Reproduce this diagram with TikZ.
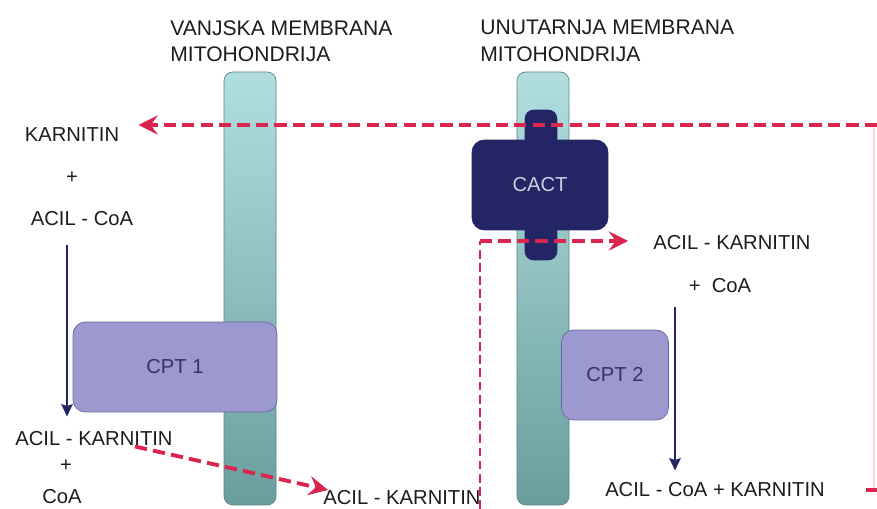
\documentclass[tikz,border=0pt]{standalone}
\usepackage{fontspec}
\setmainfont{Liberation Sans}
\usetikzlibrary{arrows.meta,positioning}
\definecolor{dashred}{RGB}{218,38,78}
\definecolor{fadepink}{RGB}{250,214,224}
\definecolor{cactnavy}{RGB}{36,37,100}
\definecolor{cactfont}{RGB}{205,205,225}
\definecolor{cptfill}{RGB}{156,152,208}
\definecolor{cptline}{RGB}{104,102,162}
\definecolor{cptfont}{RGB}{52,52,100}
\definecolor{memtop}{RGB}{178,222,224}
\definecolor{membot}{RGB}{106,158,158}
\definecolor{memline}{RGB}{88,132,132}
\definecolor{textgray}{RGB}{28,28,28}
\tikzset{
  txt/.style={font=\fontsize{11.5}{13}\selectfont, text=textgray, inner sep=0pt},
  headtxt/.style={font=\fontsize{12}{15.3}\selectfont, text=textgray, align=left, inner sep=0pt, anchor=north west},
  membrane/.style={rounded corners=5pt, draw=memline, top color=memtop, bottom color=membot},
  enzyme/.style={rounded corners=7pt, draw=cptline, fill=cptfill, text=cptfont, font=\fontsize{11.5}{13}\selectfont},
  carrier/.style={rounded corners=7pt, fill=cactnavy, draw=cactnavy, text=cactfont, font=\fontsize{11.5}{13}\selectfont},
  transport/.style={draw=dashred, line width=2.2pt, dash pattern=on 7pt off 3.5pt, -{Stealth[length=11pt,width=11pt,inset=4pt]}},
  transportthin/.style={draw=dashred, line width=1.7pt, dash pattern=on 5pt off 2.5pt},
  reaction/.style={draw=cactnavy, line width=1.1pt, -{Stealth[length=7pt,width=6.5pt,inset=1pt]}}
}
\begin{document}
\begin{tikzpicture}[x=0.02cm,y=-0.02cm]
  \useasboundingbox (0,0) rectangle (877,509);

  % membrane
  \draw[membrane] (224,72) rectangle (276,505);
  \draw[membrane] (517,72) rectangle (569,505);
  \node[headtxt] (outerlbl) at (170,20) {VANJSKA MEMBRANA\\MITOHONDRIJA};
  \node[headtxt] (innerlbl) at (480,20) {UNUTARNJA MEMBRANA\\MITOHONDRIJA};

  % enzymes
  \node[enzyme, minimum width=4.08cm, minimum height=1.8cm] (cpt1) at (175,367) {CPT 1};
  \node[enzyme, minimum width=2.14cm, minimum height=1.8cm] (cpt2) at (615,375) {};
  \node[font=\fontsize{11.5}{13}\selectfont, text=cptfont] at (cpt2) {CPT 2};
  \node[carrier, minimum width=0.64cm, minimum height=3cm, rounded corners=5pt] (cacttab) at (541,185) {};
  \node[carrier, minimum width=2.72cm, minimum height=1.8cm] (cact) at (540,185) {CACT};

  % cytosol
  \node[txt] (karnitin) at (72,135) {KARNITIN};
  \node[txt, on grid, below=0.86cm of karnitin] (plusa) {+};
  \node[txt] (acilcoa) at (82,219) {ACIL - CoA};
  \node[txt] (akarnout) at (94,439) {ACIL - KARNITIN};
  \node[txt] (plusb) at (66,466) {+};
  \node[txt] (coaout) at (62,497) {CoA};

  % intermembrane space
  \node[txt, anchor=north west] (akarnmid) at (323,490) {ACIL - KARNITIN};

  % matrix
  \node[txt] (akarnin) at (732,243) {ACIL - KARNITIN};
  \node[txt] (pluscoa) at (720,286) {+\ \ CoA};
  \node[txt] (product) at (715,490) {ACIL - CoA + KARNITIN};

  % reactions
  \path ([xshift=-0.3cm,yshift=-0.38cm]acilcoa.south) coordinate (rxa);
  \draw[reaction, shorten >=0.3cm] (rxa) -- (rxa |- akarnout.north);
  \path ([xshift=-0.9cm,yshift=-0.28cm]pluscoa.south) coordinate (rxb);
  \draw[reaction, shorten >=0.24cm] (rxb) -- (rxb |- product.north);

  % transport
  \coordinate (rtop) at (877,125);
  \coordinate (rbot) at (866,490);
  \coordinate (rin) at (480,509);
  \coordinate (rturn) at (480,241);
  \draw[fadepink, line width=0.9pt] (874,125) -- (874,490);
  \draw[dashred, line width=2.2pt] (rbot) -- (877,490);
  \draw[transport] (rtop) -- ([xshift=0.38cm]karnitin.east |- rtop);
  \draw[transport] ([xshift=-0.76cm]akarnout.south east) -- ([xshift=0.1cm]akarnmid.north west);
  \draw[transportthin] (rin) -- (rturn);
  \draw[transport] (rturn) -- ([xshift=-0.5cm]akarnin.west |- rturn);
\end{tikzpicture}
\end{document}
